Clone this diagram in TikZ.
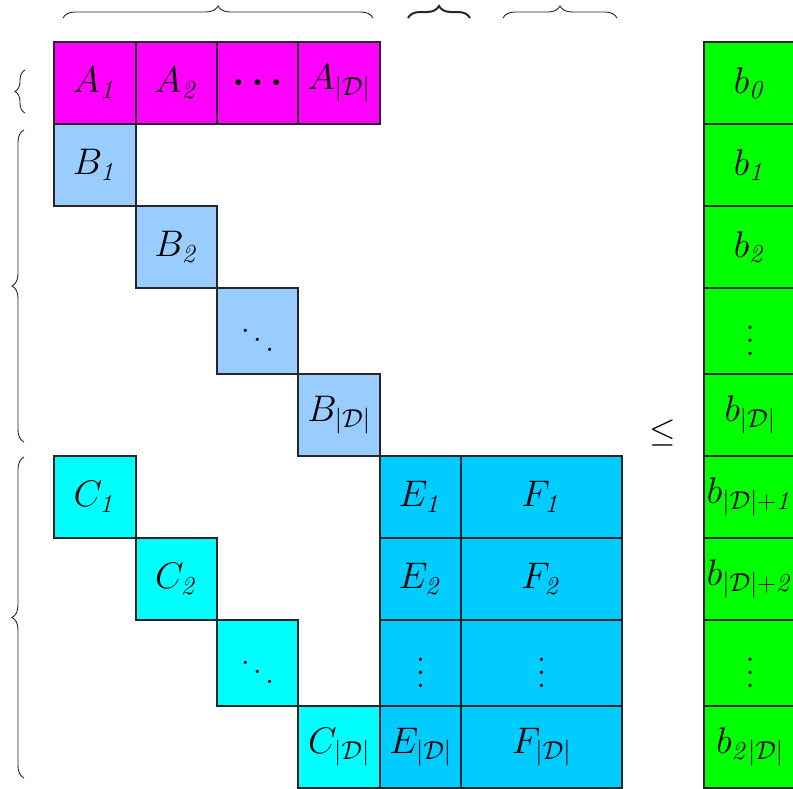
\RequirePackage{fix-cm}
\documentclass[tikz,border=0pt]{standalone}
\usepackage{amsmath,amssymb,bm}
\usetikzlibrary{decorations.pathreplacing}
\definecolor{cA}{HTML}{FF00FF}
\definecolor{cB}{HTML}{99CCFF}
\definecolor{cC}{HTML}{00FFFF}
\definecolor{cE}{HTML}{00CCFF}
\definecolor{cG}{HTML}{00FF00}
\newcommand\cellbox[7]{%
  \node[cellst, fill=#6, minimum width={(#4-#2)*1pt}, minimum height={(#5-#3)*1pt}]
    (#1) at ({(#2+#4)/2},{(#3+#5)/2}) {#7};}
\newcommand\D{|\mathcal{D}|}
\newcommand\bigvdots{\scalebox{3.2}{\normalsize$\vdots$}}
\newcommand\bigddots{\scalebox{3.1}{\normalsize$\ddots$}}
\begin{document}
\begin{tikzpicture}[x=1pt,y=-1pt,
  cellst/.style={draw=black!85, line width=1.3pt, inner sep=0pt, font=\fontsize{37}{44}\selectfont},
  bracest/.style={decorate, decoration={brace, amplitude=12pt}, line width=0.9pt, draw=black!85},
  ]
\useasboundingbox (0,0) rectangle (793,788);
\begin{scope}
\clip (0,0) rectangle (793,788);
% A row
\cellbox{A1}{54}{42}{136}{124}{cA}{$A_{\mathit{1}}$}
\cellbox{A2}{136}{42}{217}{124}{cA}{$A_{\mathit{2}}$}
\cellbox{A3}{217}{42}{298}{124}{cA}{$\bm{\ldots}$}
\cellbox{A4}{298}{42}{380}{124}{cA}{$A_{\D}$}
% B diagonal
\cellbox{B1}{54}{124}{136}{206}{cB}{$B_{\mathit{1}}$}
\cellbox{B2}{136}{206}{217}{288}{cB}{$B_{\mathit{2}}$}
\cellbox{B3}{217}{288}{298}{374}{cB}{\bigddots}
\cellbox{B4}{298}{374}{380}{456}{cB}{$B_{\D}$}
% C diagonal
\cellbox{C1}{54}{456}{136}{538}{cC}{$C_{\mathit{1}}$}
\cellbox{C2}{136}{538}{217}{620}{cC}{$C_{\mathit{2}}$}
\cellbox{C3}{217}{620}{298}{706}{cC}{\bigddots}
\cellbox{C4}{298}{706}{380}{788}{cC}{$C_{\D}$}
% E and F
\cellbox{E1}{380}{456}{461}{538}{cE}{$E_{\mathit{1}}$}
\cellbox{E2}{380}{538}{461}{620}{cE}{$E_{\mathit{2}}$}
\cellbox{E3}{380}{620}{461}{706}{cE}{\bigvdots}
\cellbox{E4}{380}{706}{461}{788}{cE}{$E_{\D}$}
\cellbox{F1}{461}{456}{622}{538}{cE}{$F_{\mathit{1}}$}
\cellbox{F2}{461}{538}{622}{620}{cE}{$F_{\mathit{2}}$}
\cellbox{F3}{461}{620}{622}{706}{cE}{\bigvdots}
\cellbox{F4}{461}{706}{622}{788}{cE}{$F_{\D}$}
% green column
\cellbox{G0}{704}{42}{796}{124}{cG}{$b_{\mathit{0}}$}
\cellbox{G1}{704}{124}{796}{206}{cG}{$b_{\mathit{1}}$}
\cellbox{G2}{704}{206}{796}{288}{cG}{$b_{\mathit{2}}$}
\cellbox{G3}{704}{288}{796}{374}{cG}{\bigvdots}
\cellbox{G4}{704}{374}{796}{456}{cG}{$b_{\D}$}
\cellbox{G5}{704}{456}{796}{538}{cG}{$b_{\D+\mathit{1}}$}
\cellbox{G6}{704}{538}{796}{620}{cG}{$b_{\D+\mathit{2}}$}
\cellbox{G7}{704}{620}{796}{706}{cG}{\bigvdots}
\cellbox{G8}{704}{706}{796}{788}{cG}{$b_{\mathit{2}\D}$}
\end{scope}
% relation sign
\node[font=\fontsize{34}{40}\selectfont] (leq) at (663,433) {$\leq$};
% top braces
\coordinate (t1a) at (63,18); \coordinate (t1b) at (373,18);
\coordinate (t2a) at (408,18); \coordinate (t2b) at (470,18);
\coordinate (t3a) at (503,18); \coordinate (t3b) at (617,18);
\draw[bracest] (t1a) -- (t1b);
\draw[bracest, line width=2pt] (t2a) -- (t2b);
\draw[bracest] (t3a) -- (t3b);
% left braces
\coordinate (l1a) at (25,113); \coordinate (l1b) at (25,70);
\coordinate (l2a) at (24,442); \coordinate (l2b) at (24,130);
\coordinate (l3a) at (24,778); \coordinate (l3b) at (24,457);
\draw[bracest, decoration={brace, amplitude=10pt}] (l1a) -- (l1b);
\draw[bracest] (l2a) -- (l2b);
\draw[bracest] (l3a) -- (l3b);
\end{tikzpicture}
\end{document}
